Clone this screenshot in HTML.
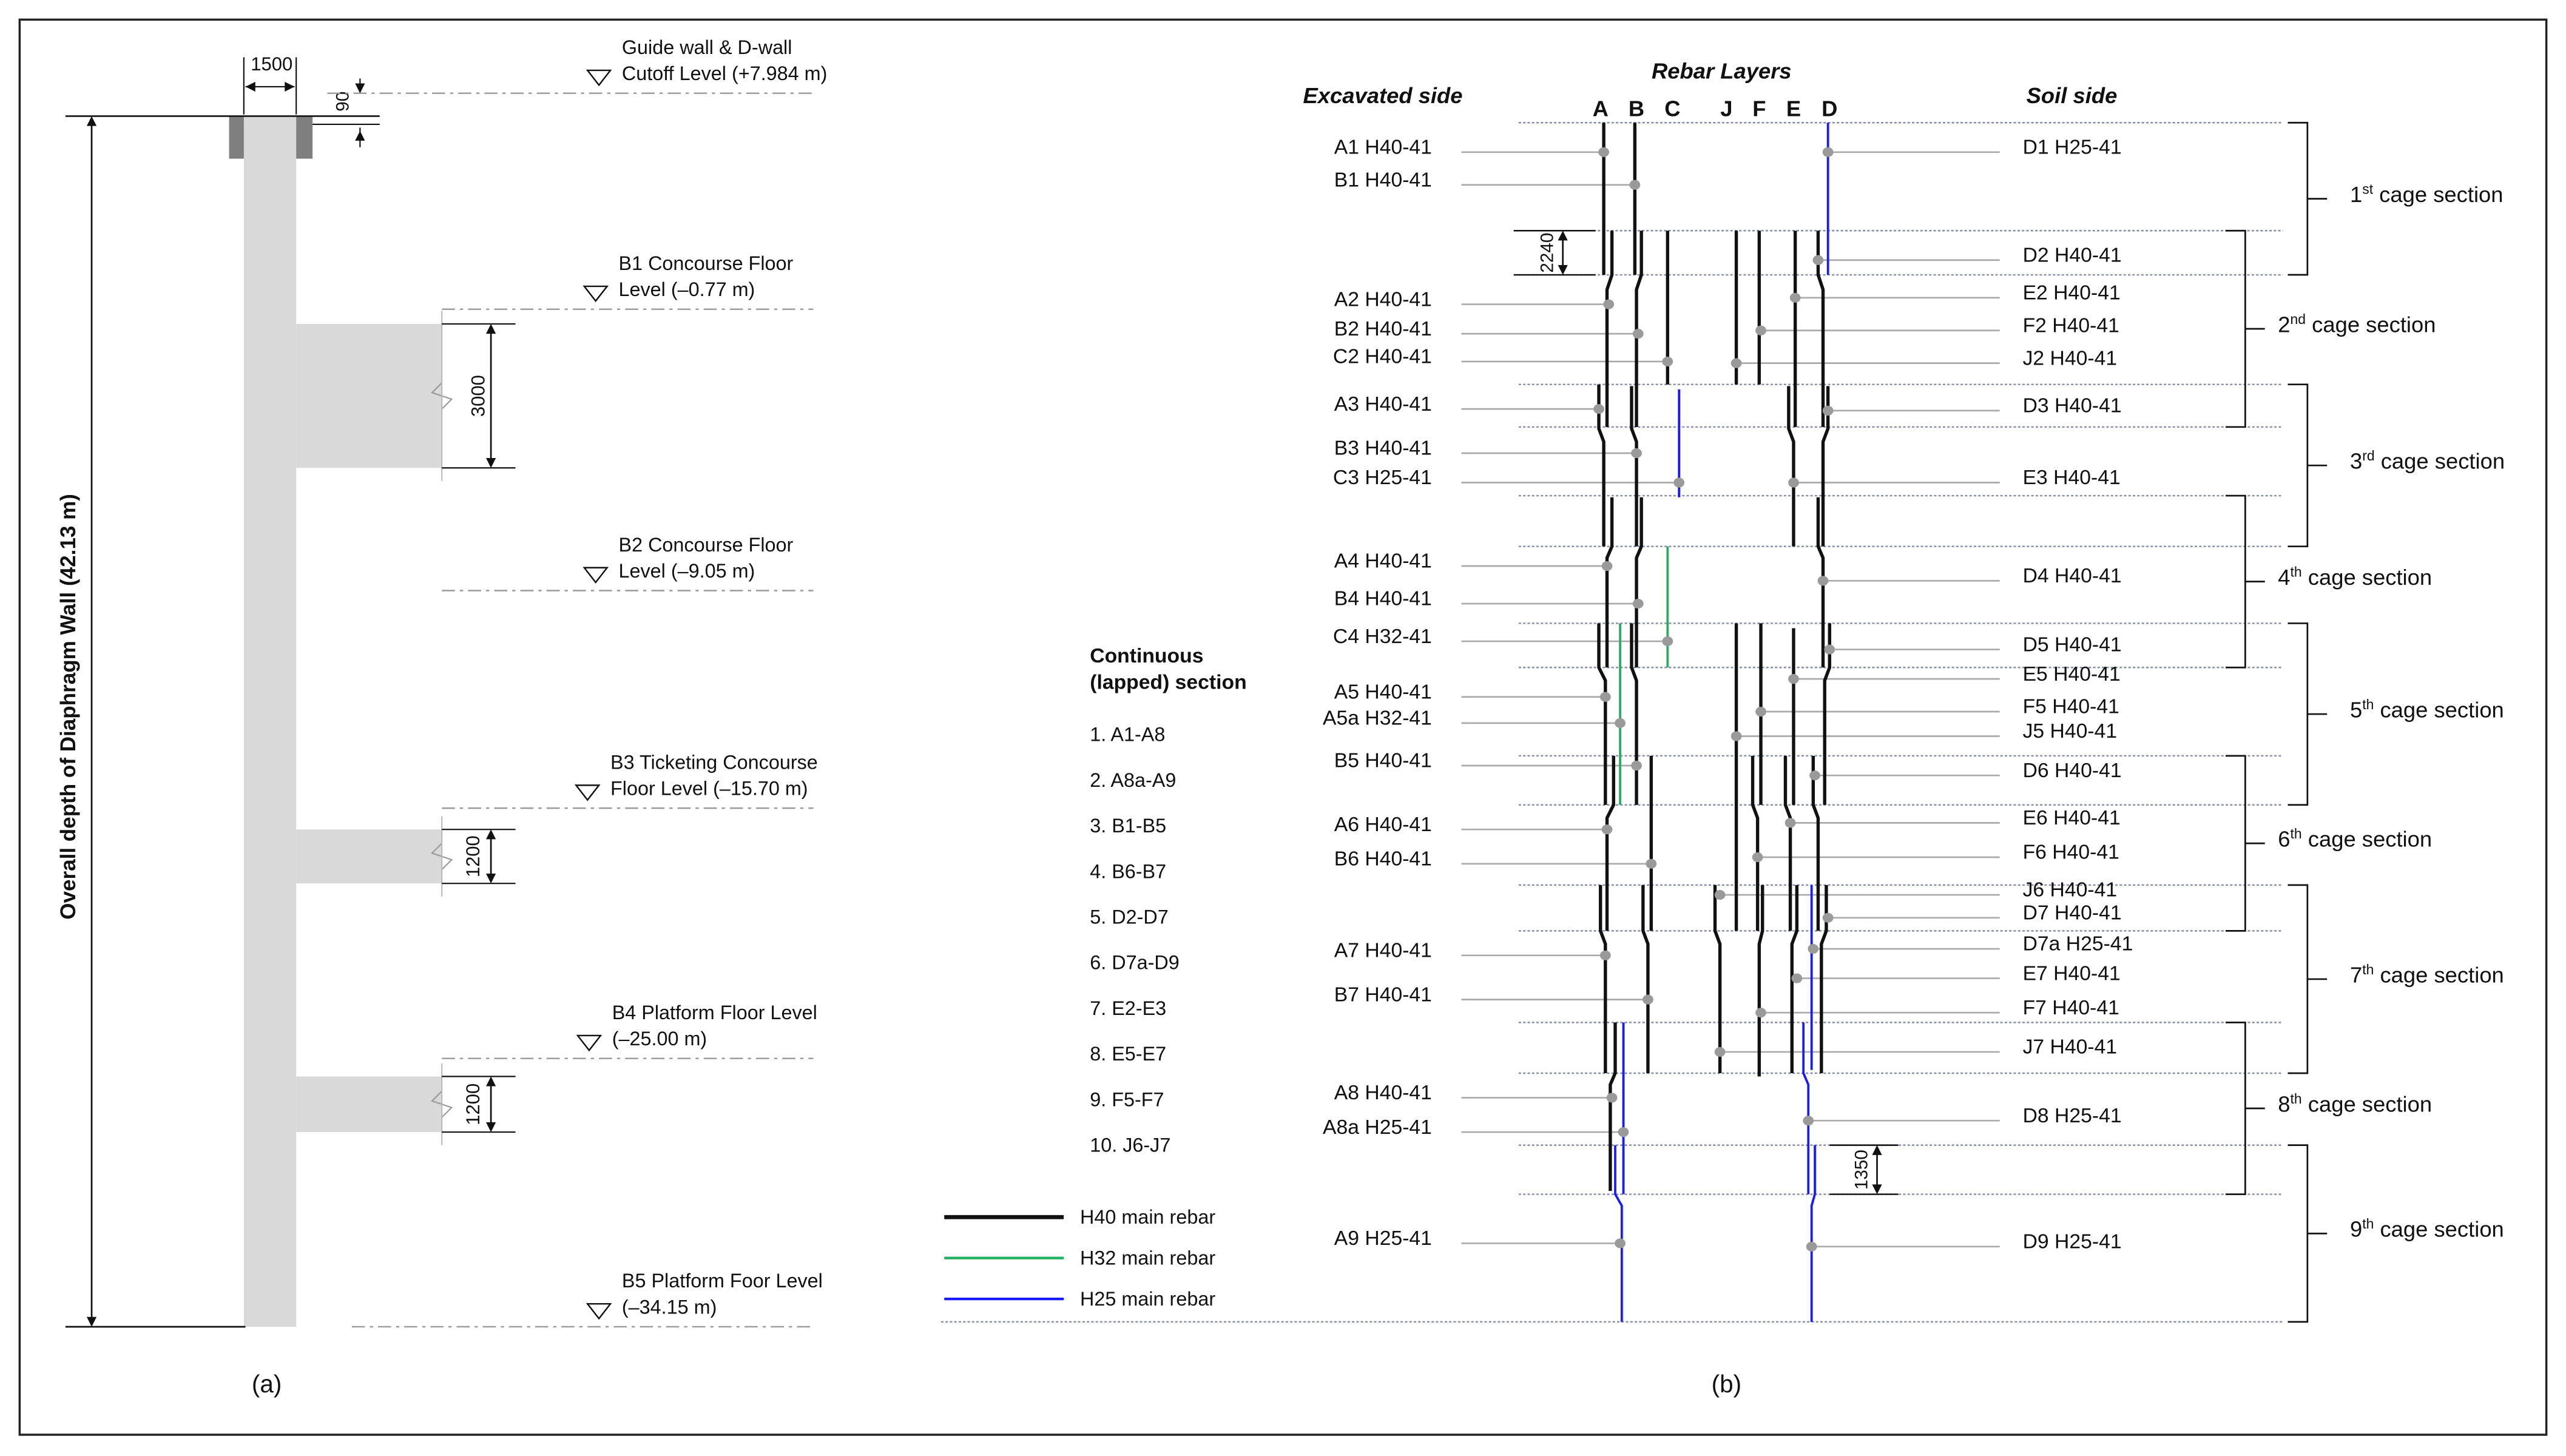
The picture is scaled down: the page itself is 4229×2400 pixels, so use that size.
<!DOCTYPE html>
<html><head><meta charset="utf-8">
<style>
html,body{margin:0;padding:0;background:#fff;}
svg{display:block;}
text{font-family:"Liberation Sans",sans-serif;fill:#111;}
</style></head>
<body>
<svg id="fig" xmlns="http://www.w3.org/2000/svg" width="4229" height="2400" viewBox="0 0 1568 890" preserveAspectRatio="none">
<rect x="12" y="12" width="1544" height="865" fill="none" stroke="#222" stroke-width="1.3"/>
<g id="pa"></g>
<g id="pb"></g>
</svg>
<script>
const NS="http://www.w3.org/2000/svg";
// ---------- data ----------
const sectionLines=[75,141,168,235,261,303,334,381,408,462,492,541,569,625,656,700,730];
const layerNames=["A","B","C","J","F","E","D"];
const layerX=[978,1000,1022,1055,1075,1096,1118];
const rebarIds=["A1","A2","A3","A4","A5","A5a","A6","A7","A8","A8a","A9","B1","B2","B3","B4","B5","B6","B7","C2","C3","C4","J2","J5","J6","F2","F5","F6","F7","E2","E3","E5","E6","E7","E8","E9","D1","D2","D3","D4","D5","D6","D7","D7a"];
const rebarColors=["k","k","k","k","k","g","k","k","k","b","b","k","k","k","k","k","k","k","k","b","g","k","k","k","k","k","k","k","k","k","k","k","k","b","b","b","k","k","k","k","k","k","b"];
const rebarPaths=[
[[980,75],[980,168]],[[985,141],[985,168],[982,177],[982,261]],[[977,235],[977,262],[980,270],[980,334]],
[[985,304],[985,334],[982,341],[982,408]],[[977,381],[977,408],[981,416],[981,492]],[[990,381],[990,492]],
[[986,462],[986,492],[982,500],[982,569]],[[978,541],[978,569],[981,577],[981,656]],[[987,625],[987,656],[984,663],[984,728]],
[[992,625],[992,730]],[[987,700],[987,730],[991,737],[991,808]],
[[999,75],[999,168]],[[1003,141],[1003,168],[1000,177],[1000,261]],[[997,236],[997,262],[1000,270],[1000,334]],
[[1003,304],[1003,334],[1000,341],[1000,408]],[[997,381],[997,408],[1000,416],[1000,492]],[[1009,462],[1009,569]],
[[1004,541],[1004,569],[1007,577],[1007,656]],
[[1019,141],[1019,235]],[[1026,238],[1026,304]],[[1019,334],[1019,408]],
[[1061,141],[1061,235]],[[1061,381],[1061,569]],[[1048,541],[1048,569],[1051,577],[1051,656]],
[[1075,141],[1075,235]],[[1076,381],[1076,492]],[[1071,462],[1071,492],[1074,500],[1074,569]],[[1077,541],[1077,569],[1075,577],[1075,658]],
[[1097,141],[1097,261]],[[1093,236],[1093,262],[1096,270],[1096,334]],[[1096,384],[1096,492]],
[[1091,462],[1091,492],[1094,500],[1094,569]],[[1098,541],[1098,569],[1095,577],[1095,656]],
[[1102,625],[1102,656],[1105,663],[1105,730]],[[1109,700],[1109,730],[1107,737],[1107,808]],
[[1117,75],[1117,168]],[[1111,141],[1111,168],[1114,177],[1114,261]],[[1117,236],[1117,262],[1114,270],[1114,334]],
[[1111,304],[1111,334],[1114,341],[1114,408]],[[1118,381],[1118,408],[1115,416],[1115,492]],
[[1108,462],[1108,492],[1111,500],[1111,569]],[[1116,541],[1116,569],[1113,577],[1113,656]],[[1107,541],[1107,654]]
];
const leftLabels=["A1 H40-41","B1 H40-41","A2 H40-41","B2 H40-41","C2 H40-41","A3 H40-41","B3 H40-41","C3 H25-41","A4 H40-41","B4 H40-41","C4 H32-41","A5 H40-41","A5a H32-41","B5 H40-41","A6 H40-41","B6 H40-41","A7 H40-41","B7 H40-41","A8 H40-41","A8a H25-41","A9 H25-41"];
const leftY=[93,113,186,204,221,250,277,295,346,369,392,426,442,468,507,528,584,611,671,692,760];
const leftDotX=[980,999,983,1001,1019,977,1000,1026,982,1001,1019,981,990,1000,982,1009,981,1007,985,992,990];
const rightLabels=["D1 H25-41","D2 H40-41","E2 H40-41","F2 H40-41","J2 H40-41","D3 H40-41","E3 H40-41","D4 H40-41","D5 H40-41","E5 H40-41","F5 H40-41","J5 H40-41","D6 H40-41","E6 H40-41","F6 H40-41","J6 H40-41","D7 H40-41","D7a H25-41","E7 H40-41","F7 H40-41","J7 H40-41","D8 H25-41","D9 H25-41"];
const rightY=[93,159,182,202,222,251,295,355,397,415,435,450,474,503,524,547,561,580,598,619,643,685,762];
const rightDotX=[1117,1111,1097,1076,1061,1117,1096,1114,1118,1096,1076,1061,1109,1094,1074,1051,1117,1108,1098,1076,1051,1105,1107];
const cageTop=[75,141,235,303,381,462,541,625,700];
const cageBot=[168,261,334,408,492,569,656,730,808];
const cageOrd=["1","2","3","4","5","6","7","8","9"];
const cageSup=["st","nd","rd","th","th","th","th","th","th"];
const lapItems=["1. A1-A8","2. A8a-A9","3. B1-B5","4. B6-B7","5. D2-D7","6. D7a-D9","7. E2-E3","8. E5-E7","9. F5-F7","10. J6-J7"];
const floorLabels=[["Guide wall & D-wall","Cutoff  Level (+7.984 m)"],["B1 Concourse Floor","Level (–0.77 m)"],["B2 Concourse Floor","Level (–9.05 m)"],["B3 Ticketing Concourse","Floor Level (–15.70 m)"],["B4 Platform Floor Level","(–25.00 m)"],["B5 Platform Foor Level","(–34.15 m)"]];
const floorY=[57,189,361,494,647,811];
const floorLabelX=[380,378,378,373,374,380];
const floorLineX1=[200,270,270,270,270,215];
// ---------- helpers ----------
function mk(parent,tag,attrs,txt){const e=document.createElementNS(NS,tag);for(const k in attrs)e.setAttribute(k,attrs[k]);if(txt!==undefined)e.textContent=txt;parent.appendChild(e);return e;}
const colMap={k:"#111",g:"#22b060",b:"#1a1aff"};
const pa=document.getElementById("pa"), pb=document.getElementById("pb");
function arrowV(p,x,y1,y2){mk(p,"line",{x1:x,y1:y1+4,x2:x,y2:y2-4,stroke:"#111","stroke-width":1});
mk(p,"path",{d:`M${x-3},${y1+6}L${x},${y1}L${x+3},${y1+6}Z`,fill:"#111"});
mk(p,"path",{d:`M${x-3},${y2-6}L${x},${y2}L${x+3},${y2-6}Z`,fill:"#111"});}

// ---------- panel a ----------
let e;
e=mk(pa,"rect",{x:149,y:71,width:32,height:740,fill:"#d9d9d9"});


mk(pa,"rect",{x:140,y:71,width:9,height:26,fill:"#7f7f7f"});
mk(pa,"rect",{x:181,y:71,width:10,height:26,fill:"#7f7f7f"});
[[198,286],[507,540],[658,692]].forEach(s=>{
 e=mk(pa,"rect",{x:181,y:s[0],width:89,height:s[1]-s[0],fill:"#d9d9d9"});
 
 
 const m=(s[0]+s[1])/2;
 mk(pa,"path",{d:`M270,${m-8}L264,${m-2}L276,${m+2}L270,${m+8}`,fill:"none",stroke:"#999","stroke-width":0.8});
 mk(pa,"line",{x1:270,y1:s[0]-8,x2:270,y2:s[1]+8,stroke:"#bbb","stroke-width":0.8});
});
mk(pa,"line",{x1:40,y1:71,x2:232,y2:71,stroke:"#111","stroke-width":1});
mk(pa,"line",{x1:40,y1:811,x2:150,y2:811,stroke:"#111","stroke-width":1});
mk(pa,"line",{x1:191,y1:76,x2:232,y2:76,stroke:"#111","stroke-width":0.8});
arrowV(pa,56,71,811);
e=mk(pa,"text",{x:46,y:432,"font-size":13,"font-weight":"bold","text-anchor":"middle",transform:"rotate(-90 46 432)"},"Overall depth of Diaphragm Wall (42.13 m)");


mk(pa,"line",{x1:149,y1:35,x2:149,y2:70,stroke:"#111","stroke-width":0.8});
mk(pa,"line",{x1:181,y1:35,x2:181,y2:70,stroke:"#111","stroke-width":0.8});
mk(pa,"line",{x1:150,y1:53,x2:180,y2:53,stroke:"#111","stroke-width":0.8});
mk(pa,"path",{d:"M150,53l6,-3v6zM180,53l-6,-3v6z",fill:"#111"});
mk(pa,"text",{x:166,y:43,"font-size":11.5,"text-anchor":"middle"},"1500");
mk(pa,"line",{x1:220,y1:48,x2:220,y2:57,stroke:"#111","stroke-width":0.8});
mk(pa,"line",{x1:220,y1:78,x2:220,y2:90,stroke:"#111","stroke-width":0.8});
mk(pa,"path",{d:"M217,51l3,6l3,-6zM217,86l3,-6l3,6z",fill:"#111"});
mk(pa,"text",{x:213,y:62,"font-size":11,"text-anchor":"middle",transform:"rotate(-90 213 62)"},"90");
[[198,286,"3000",292],[507,540,"1200",289],[658,692,"1200",289]].forEach(d=>{
 mk(pa,"line",{x1:270,y1:d[0],x2:315,y2:d[0],stroke:"#111","stroke-width":0.8});
 mk(pa,"line",{x1:270,y1:d[1],x2:315,y2:d[1],stroke:"#111","stroke-width":0.8});
 arrowV(pa,300,d[0],d[1]);
 const m=(d[0]+d[1])/2;
 mk(pa,"text",{x:d[3]+4,y:m,"font-size":11.5,"text-anchor":"middle",transform:`rotate(-90 ${d[3]+4} ${m})`},d[2]);
});
floorY.forEach((y,i)=>{
 e=mk(pa,"line",{x1:floorLineX1[i],y1:y,x2:497,y2:y,stroke:"#999","stroke-width":0.9,"stroke-dasharray":"8 3 2 3"});
 
 
 const tx=floorLabelX[i]-14, ty=y-8;
 mk(pa,"path",{d:`M${tx-7},${ty-6}L${tx+7},${ty-6}L${tx},${ty+3}Z`,fill:"#fff",stroke:"#111","stroke-width":0.9});
 e=mk(pa,"text",{x:floorLabelX[i],y:y-24,"font-size":12},floorLabels[i][0]);
 
 
 mk(pa,"text",{x:floorLabelX[i],y:y-8,"font-size":12},floorLabels[i][1]);
});
mk(pa,"text",{x:163,y:851,"font-size":15,"text-anchor":"middle"},"(a)");

// ---------- panel b ----------
sectionLines.forEach((y,i)=>{
 e=mk(pb,"line",{x1:(y==141||y==168)?925:928,y1:y,x2:1395,y2:y,stroke:"#8a8fa8","stroke-width":0.9,"stroke-dasharray":"1.5 1.2"});
 
 
});
mk(pb,"line",{x1:575,y1:808,x2:1395,y2:808,stroke:"#8a8fa8","stroke-width":0.9,"stroke-dasharray":"1.5 1.2"});
leftY.forEach((y,i)=>{
 mk(pb,"line",{x1:893,y1:y,x2:leftDotX[i],y2:y,stroke:"#aaa","stroke-width":1});
});
rightY.forEach((y,i)=>{
 mk(pb,"line",{x1:rightDotX[i],y1:y,x2:1222,y2:y,stroke:"#aaa","stroke-width":1});
});
rebarPaths.forEach((pts,i)=>{
 e=mk(pb,"polyline",{points:pts.map(p=>p.join(",")).join(" "),fill:"none",stroke:colMap[rebarColors[i]],"stroke-width":rebarColors[i]=="k"?2:1.4});
 
 
});
leftY.forEach((y,i)=>{
 e=mk(pb,"ellipse",{cx:leftDotX[i],cy:y,rx:3.3,ry:3,fill:"#9a9a9a"});
 
 
 e=mk(pb,"text",{x:875,y:y+1,"font-size":12.5,"text-anchor":"end"},leftLabels[i]);
 
 
});
rightY.forEach((y,i)=>{
 e=mk(pb,"ellipse",{cx:rightDotX[i],cy:y,rx:3.3,ry:3,fill:"#9a9a9a"});
 
 
 e=mk(pb,"text",{x:1236,y:y+1,"font-size":12.5},rightLabels[i]);
 
 
});
layerNames.forEach((n,i)=>{
 e=mk(pb,"text",{x:layerX[i],y:71,"font-size":13.5,"font-weight":"bold","text-anchor":"middle"},n);
 
 
});
mk(pb,"text",{x:845,y:63,"font-size":13.5,"font-weight":"bold","font-style":"italic","text-anchor":"middle"},"Excavated side");
mk(pb,"text",{x:1052,y:48,"font-size":13.5,"font-weight":"bold","font-style":"italic","text-anchor":"middle"},"Rebar Layers");
mk(pb,"text",{x:1266,y:63,"font-size":13.5,"font-weight":"bold","font-style":"italic","text-anchor":"middle"},"Soil side");
// dimensions
[[141,168,925,975,955,"2240",945],[700,730,1118,1160,1147,"1350",1137]].forEach(d=>{
 mk(pb,"line",{x1:d[2],y1:d[0],x2:d[3],y2:d[0],stroke:"#111","stroke-width":0.9});
 mk(pb,"line",{x1:d[2],y1:d[1],x2:d[3],y2:d[1],stroke:"#111","stroke-width":0.9});
 arrowV(pb,d[4],d[0],d[1]);
 const m=(d[0]+d[1])/2;
 mk(pb,"text",{x:d[6]+4,y:m,"font-size":11,"text-anchor":"middle",transform:`rotate(-90 ${d[6]+4} ${m})`},d[5]);
});
// cage braces
cageTop.forEach((t,i)=>{
 const b=cageBot[i], odd=i%2==0;
 const x0=odd?1398:1360, x1=odd?1410:1372;
 const m=(t+b)/2;
 e=mk(pb,"path",{d:`M${x0},${t}H${x1}V${b}H${x0}M${x1},${m}H${x1+12}`,fill:"none",stroke:"#111","stroke-width":1});
 
 
 const tx=odd?1436:1392;
 e=mk(pb,"text",{x:tx,y:m+2,"font-size":13.5});
 
 
 e.appendChild(document.createTextNode(cageOrd[i]));
 mk(e,"tspan",{"font-size":8.5,dy:-5},cageSup[i]);
 mk(e,"tspan",{dy:5}," cage section");
});
// lapped list
mk(pb,"text",{x:666,y:405,"font-size":12.5,"font-weight":"bold"},"Continuous");
mk(pb,"text",{x:666,y:421,"font-size":12.5,"font-weight":"bold"},"(lapped) section");
lapItems.forEach((t,i)=>{
 e=mk(pb,"text",{x:666,y:453+i*27.9,"font-size":12},t);
 
 
});
// legend
const legendLabels=["H40 main rebar","H32 main rebar","H25 main rebar"];
const legendCols=["k","g","b"];
legendLabels.forEach((l,i)=>{
 const y=744+i*25;
 e=mk(pb,"line",{x1:577,y1:y,x2:650,y2:y,stroke:colMap[legendCols[i]],"stroke-width":i==0?2.5:1.6});
 
 
 e=mk(pb,"text",{x:660,y:y+4,"font-size":12},l);
 
 
});
mk(pb,"text",{x:1055,y:851,"font-size":15,"text-anchor":"middle"},"(b)");
</script>
</body></html>
